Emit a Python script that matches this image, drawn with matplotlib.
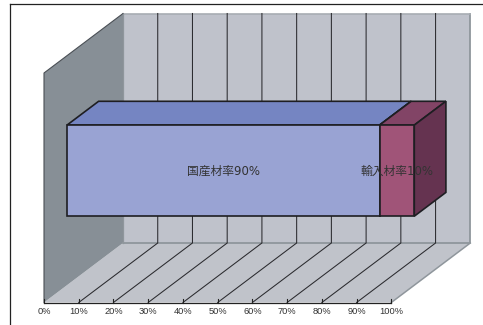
#!/usr/bin/env python3
"""Stacked 3D-style bar: domestic vs imported timber share."""

import matplotlib
matplotlib.use('Agg')
import matplotlib.pyplot as plt
from matplotlib.patches import Polygon

W, H = 483, 325

tick_values = [0, 10, 20, 30, 40, 50, 60, 70, 80, 90, 100]
tick_labels = ['0%', '10%', '20%', '30%', '40%', '50%', '60%', '70%', '80%', '90%', '100%']
series_names = ['国産材率', '輸入材率']
series_values = [90, 10]

# oblique projection, pixel positions of the box corners
X0, X100 = 44, 391.3
FLOOR_Y = 302.5
WALL_H = 229.5
DEPTH_X, DEPTH_Y = 79, 59.5

# bar placement inside the box
BAR_SHIFT = 23 / (X100 - X0) * 100
D0, D1 = 0.0, 0.4
Z0, Z1 = 0.376, 0.773


def proj(x, d=0.0, z=0.0):
    """value on the axis, depth 0..1, height 0..1 -> canvas position"""
    px = X0 + (X100 - X0) * x / 100 + DEPTH_X * d
    py = FLOOR_Y - WALL_H * z - DEPTH_Y * d
    return px, py


def face(ax, pts, color, edge=None, lw=0.0, zorder=2):
    ax.add_patch(Polygon(pts, closed=True, facecolor=color, edgecolor=edge or color,
                         linewidth=lw, joinstyle='miter', zorder=zorder))


def box(ax, s, e, front, top, side, zorder):
    ec = '#1e1e22'
    lw = 1.2
    face(ax, [proj(s, D1, Z1), proj(e, D1, Z1), proj(e, D0, Z1), proj(s, D0, Z1)],
         top, ec, lw, zorder)
    face(ax, [proj(e, D0, Z0), proj(e, D1, Z0), proj(e, D1, Z1), proj(e, D0, Z1)],
         side, ec, lw, zorder)
    face(ax, [proj(s, D0, Z0), proj(e, D0, Z0), proj(e, D0, Z1), proj(s, D0, Z1)],
         front, ec, lw, zorder + 0.1)


fig = plt.figure(figsize=(W / 100, H / 100), dpi=100)
ax = fig.add_axes([0, 0, 1, 1])
ax.set_xlim(0, W)
ax.set_ylim(H, 0)
ax.axis('off')

# outer chart border
ax.plot([10.3, 10.3], [4.4, H], color='#222222', lw=0.9, zorder=1)
ax.plot([10.3, W], [4.4, 4.4], color='#222222', lw=0.9, zorder=1)

# walls and floor
face(ax, [proj(0), proj(100), proj(100, 1), proj(0, 1)], '#c0c3ca')
face(ax, [proj(0, 1), proj(100, 1), proj(100, 1, 1), proj(0, 1, 1)], '#bfc2cb')
face(ax, [proj(0), proj(0, 1), proj(0, 1, 1), proj(0, 0, 1)], '#878f96')

# wall edges
ax.plot(*zip(proj(0, 1), proj(100, 1), proj(100, 1, 1)), color='#8f969c', lw=1.3, zorder=3)
ax.plot(*zip(proj(0, 1, 1), proj(100, 1, 1)), color='#a8adb3', lw=1.2, zorder=3)
ax.plot(*zip(proj(0, 1), proj(0, 1, 1)), color='#8f969c', lw=0.9, zorder=3)
ax.plot(*zip(proj(100), proj(100, 1)), color='#8f969c', lw=1.1, zorder=3)
ax.plot(*zip(proj(0), proj(0, 0, 1), proj(0, 1, 1)), color='#4a4f55', lw=0.8, zorder=3)

# gridlines on the floor and back wall
for v in tick_values[1:-1]:
    ax.plot(*zip(proj(v), proj(v, 1), proj(v, 1, 1)), color='#2a2a2e', lw=0.75, zorder=4)

# value axis with ticks
ax.plot(*zip(proj(0), proj(100)), color='#222222', lw=0.9, zorder=4)
for v, lab in zip(tick_values, tick_labels):
    px, py = proj(v)
    ax.plot([px, px], [py - 4, py], color='#222222', lw=0.8, zorder=4)
    ax.text(px, 312, lab, ha='center', va='center', fontsize=6.7,
            family=['Liberation Sans'], color='#333333', zorder=5)

left = BAR_SHIFT
mid = left + series_values[0]
right = mid + series_values[1]
box(ax, left, mid, '#99a3d3', '#7585c2', '#7585c2', 6)
box(ax, mid, right, '#a05478', '#824466', '#653350', 7)

# segment labels
label_y = 171.5
for i, (name, val) in enumerate(zip(series_names, series_values)):
    start = left if i == 0 else mid
    cx = proj(start + val / 2)[0]
    ax.text(cx, label_y, f'{name}{val}%', ha='center', va='center', fontsize=8.5,
            family=['DejaVu Sans', 'Noto Sans CJK JP'], color='#333333', zorder=9)

fig.savefig('out.png', dpi=100, facecolor='white')
